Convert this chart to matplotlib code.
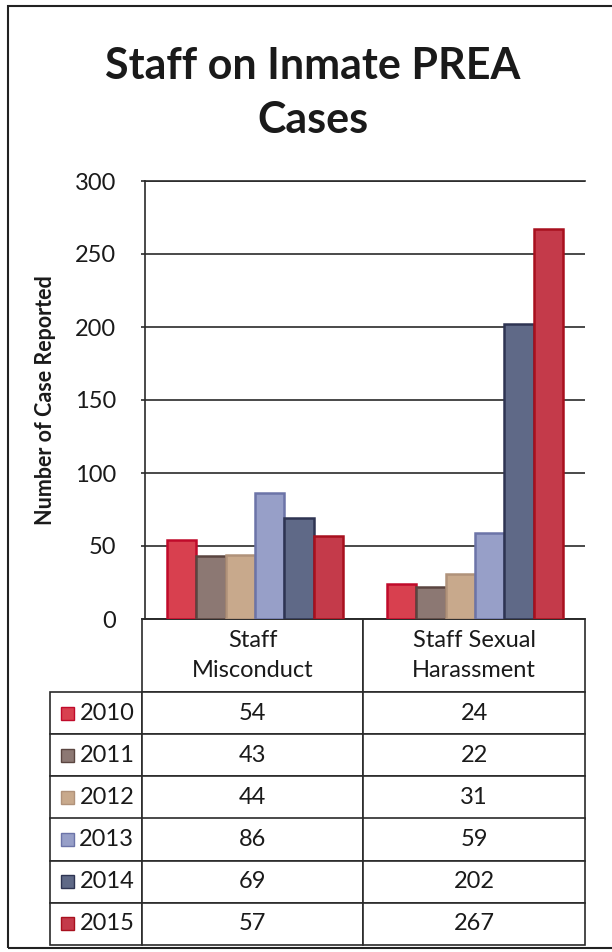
import matplotlib
matplotlib.use('agg')
import matplotlib.pyplot as plt
import matplotlib.patches as patches
import numpy as np

plt.rcParams['font.family'] = ['Lato', 'DejaVu Sans']

# data
categories = ['Staff\nMisconduct', 'Staff Sexual\nHarassment']
years = ['2010', '2011', '2012', '2013', '2014', '2015']
misconduct = [54, 43, 44, 86, 69, 57]
harassment = [24, 22, 31, 59, 202, 267]
yticks = [0, 50, 100, 150, 200, 250, 300]

fillColors = ['#D8404F', '#8C7873', '#C8A98C', '#979FC8', '#5F6987', '#C43A4A']
edgeColors = ['#C00A2A', '#5A4540', '#B0927A', '#6C74A8', '#2E3452', '#A8101E']

W, H = 612, 952
fig = plt.figure(figsize=(W / 100, H / 100), dpi=100)

# outer frame of the chart (right edge runs off the page like the scan)
fig.add_artist(patches.Rectangle((8 / W, 1 - 948 / H), 620 / W, 942 / H,
                                 transform=fig.transFigure, fill=False,
                                 edgecolor='#222222', linewidth=1.5))

fig.text(313 / W, 1 - 93 / H, 'Staff on Inmate PREA\nCases', ha='center', va='center',
         fontsize=31, fontweight='bold', color='#1a1a1a', linespacing=1.45)

# plot area in pixels: left 145, right 585, top 181, bottom 619
axL, axT, axW, axH = 145, 181, 440, 438
ax = fig.add_axes([axL / W, 1 - (axT + axH) / H, axW / W, axH / H])

x = np.arange(len(categories))
nbars = len(years)
bw = 0.8 / nbars
for i in range(nbars):
    vals = [misconduct[i], harassment[i]]
    ax.bar(x + (i - (nbars - 1) / 2) * bw, vals, bw, color=fillColors[i],
           edgecolor=edgeColors[i], linewidth=1.8, zorder=3)

ax.set_xlim(-0.5, 1.5)
ax.set_ylim(0, 300)
ax.set_yticks(yticks)
ax.set_xticks([])
ax.grid(axis='y', color='#2a2a2a', linewidth=1.2, zorder=0)
ax.spines['right'].set_visible(False)
for s in ['left', 'top', 'bottom']:
    ax.spines[s].set_color('#2a2a2a')
    ax.spines[s].set_linewidth(1.2)
ax.tick_params(axis='y', length=3, width=1.2, color='#2a2a2a', pad=18,
               labelsize=17, labelcolor='#1a1a1a')

ax.set_ylabel('Number of Case Reported', fontsize=15.5, fontweight='bold', color='#1a1a1a')
ax.yaxis.set_label_coords((56 - axL) / axW, 0.5)

# data table under the plot, first column holds the year labels
tblL, tblR = 50, 585
rowH = (945 - 692) / 6
headH = 692 - 619
cellText = [[y, str(a), str(b)] for y, a, b in zip(years, misconduct, harassment)]
lblW = (141 - tblL) / axW
tbl = ax.table(cellText=cellText, colLabels=[''] + categories,
               colWidths=[lblW, 0.5, 0.5], cellLoc='center',
               bbox=[(tblL - axL) / axW, -(945 - 619) / axH,
                     (tblR - tblL) / axW, (945 - 619) / axH])
tbl.auto_set_font_size(False)
tbl.set_fontsize(17)
for (r, c), cell in tbl.get_celld().items():
    cell.set_edgecolor('#2a2a2a')
    cell.set_linewidth(1.2)
    cell.get_text().set_color('#1a1a1a')
    if r == 0:
        cell.set_height(cell.get_height() * headH / rowH)
        cell.get_text().set_linespacing(1.55)
        if c == 0:
            cell.visible_edges = ''
    elif c == 0:
        cell.get_text().set_horizontalalignment('right')
        cell.PAD = 0.08

# legend keys inside the year cells
for i in range(nbars):
    yc = -(692 - 619 + rowH * (i + 0.5)) / axH
    ax.add_patch(patches.Rectangle(((61 - axL) / axW, yc - 6.5 / axH), 13 / axW, 13 / axH,
                                   transform=ax.transAxes, clip_on=False,
                                   facecolor=fillColors[i], edgecolor=edgeColors[i],
                                   linewidth=1, zorder=5))

fig.savefig('out.png', dpi=100)
